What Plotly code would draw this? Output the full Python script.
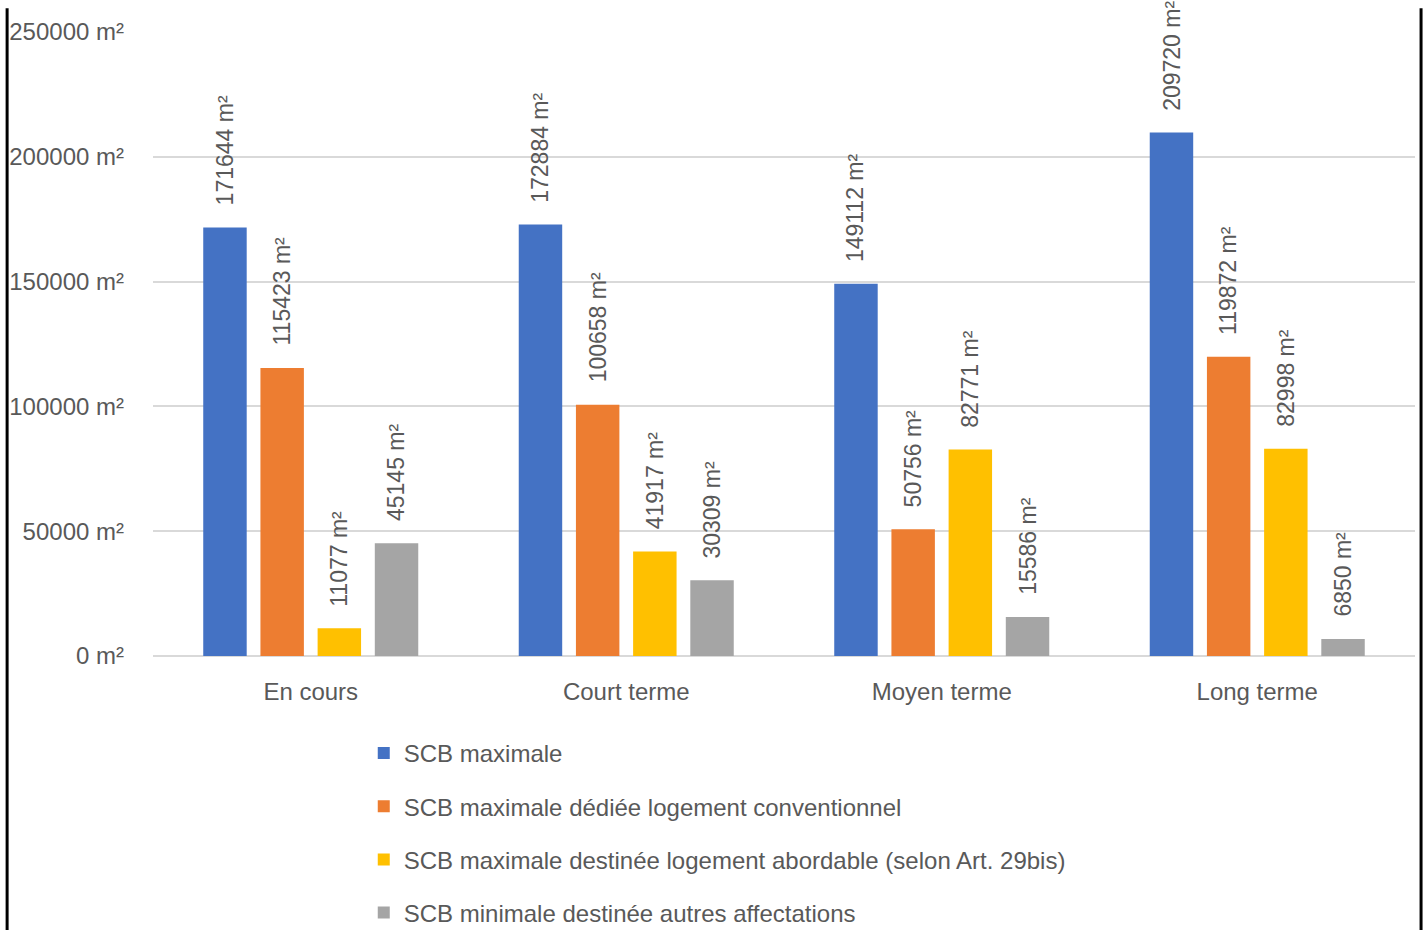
import plotly.graph_objects as go

# Horizon de réalisation des projets
categories = ["En cours", "Court terme", "Moyen terme", "Long terme"]

series_names = [
    "SCB maximale",
    "SCB maximale dédiée logement conventionnel",
    "SCB maximale destinée logement abordable (selon Art. 29bis)",
    "SCB minimale destinée autres affectations",
]

scb_maximale = [171644, 172884, 149112, 209720]
scb_conventionnel = [115423, 100658, 50756, 119872]
scb_abordable = [11077, 41917, 82771, 82998]
scb_autres = [45145, 30309, 15586, 6850]

series_values = [scb_maximale, scb_conventionnel, scb_abordable, scb_autres]
colors = ["#4472C4", "#ED7D31", "#FFC000", "#A5A5A5"]

y_ticks = [0, 50000, 100000, 150000, 200000, 250000]
y_tick_labels = ["0 m²", "50000 m²", "100000 m²", "150000 m²", "200000 m²", "250000 m²"]

text_color = "#595959"
font_family = "Liberation Sans, Arial, sans-serif"

fig = go.Figure()
for i, (name, vals, col) in enumerate(zip(series_names, series_values, colors)):
    fig.add_trace(go.Bar(
        x=categories,
        y=vals,
        name=name,
        marker=dict(color=col, line=dict(width=0)),
        legendgroup=f"g{i}",
        hoverinfo="x+y+name",
    ))

# Rotated value labels above each bar
slot = 57.3
n = len(series_values)
for i, vals in enumerate(series_values):
    for cat, v in zip(categories, vals):
        fig.add_annotation(
            x=cat, y=v, xref="x", yref="y",
            text=f"{v} m²",
            textangle=-90,
            showarrow=False,
            xanchor="center", yanchor="bottom",
            xshift=(i - (n - 1) / 2) * slot,
            yshift=20,
            font=dict(family=font_family, size=23, color=text_color),
        )

# Frame lines at the left and right edges of the page
for xp in (-0.1156, 1.0048):
    fig.add_shape(
        type="line", xref="paper", yref="paper",
        x0=xp, x1=xp, y0=1.038, y1=-0.46,
        line=dict(color="black", width=3),
    )

fig.update_layout(
    width=1426, height=930,
    margin=dict(l=153, r=11, t=32, b=274, autoexpand=False),
    paper_bgcolor="white",
    plot_bgcolor="white",
    barmode="group",
    bargap=0.275,
    bargroupgap=0.24,
    font=dict(family=font_family, size=24, color=text_color),
    showlegend=True,
    legend=dict(
        orientation="v",
        x=0.167, y=-0.120,
        xanchor="left", yanchor="top",
        font=dict(family=font_family, size=24, color=text_color),
        tracegroupgap=19,
        bgcolor="rgba(0,0,0,0)",
    ),
    xaxis=dict(
        showgrid=False,
        showline=False,
        ticks="",
        ticklabelstandoff=19,
        tickfont=dict(family=font_family, size=24, color=text_color),
    ),
    yaxis=dict(
        range=[0, 250000],
        tickvals=y_ticks,
        ticktext=y_tick_labels,
        showgrid=True,
        gridcolor="#D9D9D9",
        gridwidth=2,
        zeroline=True,
        zerolinecolor="#D9D9D9",
        zerolinewidth=2,
        showline=False,
        ticks="",
        ticklabelstandoff=28,
        tickfont=dict(family=font_family, size=24, color=text_color),
    ),
)

fig.write_html("out.html")
